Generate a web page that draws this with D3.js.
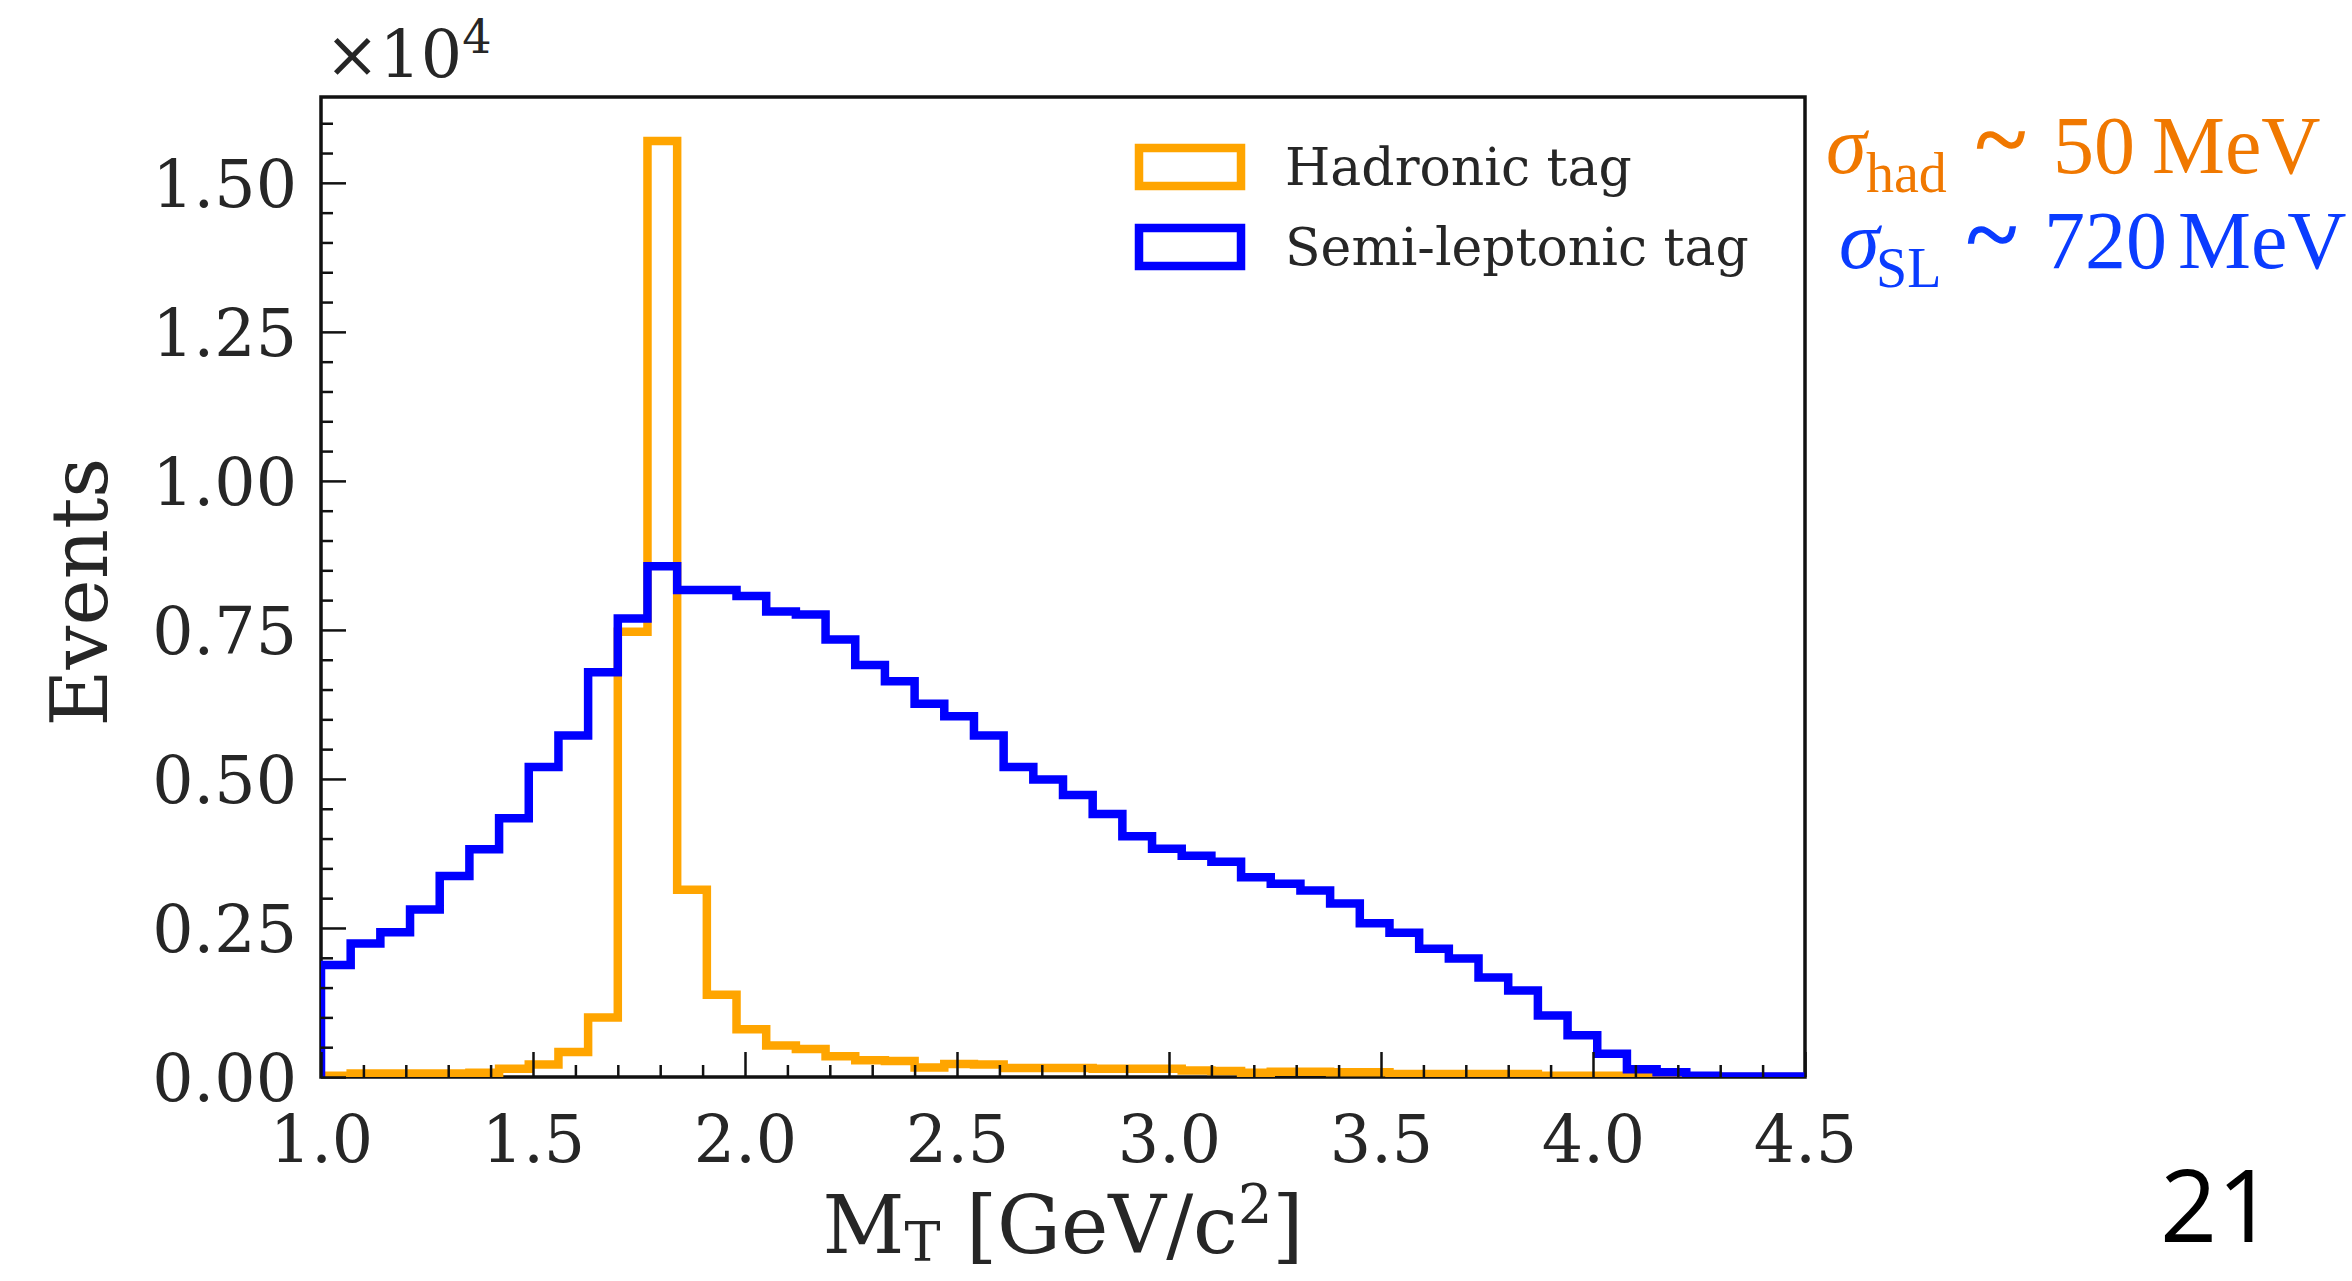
<!DOCTYPE html>
<html><head><meta charset="utf-8">
<script src="https://cdn.jsdelivr.net/npm/d3@7"></script>
<style>body{margin:0;background:#fff;} svg{display:block;}</style>
</head><body>
<svg id="c" width="2352" height="1281"></svg>
<script>
// ---------- data ----------
const binEdges = [1.00,1.07,1.14,1.21,1.28,1.35,1.42,1.49,1.56,1.63,1.70,1.77,1.84,1.91,1.98,2.05,2.12,2.19,2.26,2.33,2.40,2.47,2.54,2.61,2.68,2.75,2.82,2.89,2.96,3.03,3.10,3.17,3.24,3.31,3.38,3.45,3.52,3.59,3.66,3.73,3.80,3.87,3.94,4.01,4.08,4.15,4.22,4.29,4.36,4.43,4.50];
// Events in units of 10^4
const hadronic = [0.002,0.006,0.006,0.006,0.006,0.007,0.014,0.021,0.042,0.100,0.747,1.570,0.314,0.138,0.080,0.053,0.047,0.035,0.028,0.027,0.016,0.022,0.021,0.015,0.015,0.015,0.014,0.014,0.014,0.011,0.010,0.007,0.009,0.009,0.008,0.008,0.005,0.005,0.005,0.005,0.005,0.002,0.002,0.002,0.002,0,0,0,0,0];
const semiLeptonic = [0.188,0.224,0.243,0.281,0.337,0.382,0.434,0.520,0.573,0.679,0.769,0.857,0.817,0.817,0.807,0.781,0.776,0.734,0.691,0.664,0.626,0.605,0.573,0.520,0.499,0.473,0.441,0.404,0.383,0.371,0.361,0.335,0.324,0.313,0.291,0.258,0.242,0.215,0.199,0.167,0.145,0.103,0.070,0.039,0.013,0.008,0.002,0.001,0.001,0.001];
const xTicks = [1.0,1.5,2.0,2.5,3.0,3.5,4.0,4.5];
const yTicks = [0,0.25,0.50,0.75,1.00,1.25,1.50];
const seriesNames = ["Hadronic tag","Semi-leptonic tag"];
const seriesColors = ["#FFA500","#0000FF"];

// ---------- layout ----------
const svg = d3.select('#c');
const M = {left:321, right:1805, top:97, bottom:1077};
const x = d3.scaleLinear().domain([1.0,4.5]).range([M.left,M.right]);
const y = d3.scaleLinear().domain([0,1.644]).range([M.bottom,M.top]);
const textCol = '#262626';

svg.append('rect').attr('width',2352).attr('height',1281).attr('fill','#fff');
svg.append('defs').append('clipPath').attr('id','clip').append('rect')
  .attr('x',M.left).attr('y',M.top).attr('width',M.right-M.left).attr('height',M.bottom-M.top);

// spines
svg.append('rect').attr('x',M.left).attr('y',M.top).attr('width',M.right-M.left).attr('height',M.bottom-M.top)
  .attr('fill','none').attr('stroke','#111').attr('stroke-width',3.5);

// step histograms
function stepPoints(vals){
  const pts=[[binEdges[0],0]];
  vals.forEach((v,i)=>{pts.push([binEdges[i],v]);pts.push([binEdges[i+1],v]);});
  pts.push([binEdges[binEdges.length-1],0]);
  return pts;
}
const line = d3.line().x(d=>x(d[0])).y(d=>y(d[1]));
const gLines = svg.append('g').attr('clip-path','url(#clip)');
[hadronic, semiLeptonic].forEach((vals,i)=>{
  gLines.append('path').attr('d',line(stepPoints(vals)))
    .attr('fill','none').attr('stroke',seriesColors[i]).attr('stroke-width',8.5)
    .attr('stroke-linejoin','miter');
});

// axes
const xMinor = d3.range(1.0,4.5001,0.1).filter(v=>!xTicks.some(t=>Math.abs(t-v)<1e-6));
const yMinor = d3.range(0,1.6001,0.05).filter(v=>!yTicks.some(t=>Math.abs(t-v)<1e-6));

const gxm = svg.append('g').attr('transform',`translate(0,${M.bottom})`)
  .call(d3.axisBottom(x).tickValues(xMinor).tickFormat('').tickSizeInner(-12).tickSizeOuter(0));
const gx = svg.append('g').attr('transform',`translate(0,${M.bottom})`)
  .call(d3.axisBottom(x).tickValues(xTicks).tickFormat(d3.format('.1f')).tickSizeInner(-25).tickSizeOuter(0));
const gym = svg.append('g').attr('transform',`translate(${M.left},0)`)
  .call(d3.axisLeft(y).tickValues(yMinor).tickFormat('').tickSizeInner(-12).tickSizeOuter(0));
const gy = svg.append('g').attr('transform',`translate(${M.left},0)`)
  .call(d3.axisLeft(y).tickValues(yTicks).tickFormat(d3.format('.2f')).tickSizeInner(-25).tickSizeOuter(0));
[gxm,gx,gym,gy].forEach(g=>{
  g.select('.domain').remove();
  g.selectAll('line').attr('stroke','#111').attr('stroke-width',2.5);
});
gx.selectAll('text').attr('y',85).attr('dy',null)
  .attr('font-family','DejaVu Serif').attr('font-size',65).attr('fill',textCol);
gy.selectAll('text').attr('x',-24).attr('dy','0.36em')
  .attr('font-family','DejaVu Serif').attr('font-size',65).attr('fill',textCol);

// offset text x10^4
const off = svg.append('text').attr('x',325).attr('y',77)
  .attr('font-family','DejaVu Serif').attr('font-size',65).attr('fill',textCol).text('×10');
off.append('tspan').attr('font-size',46).attr('dy',-24).text('4');

// axis labels
svg.append('text').attr('transform','translate(107,592) rotate(-90)').attr('text-anchor','middle')
  .attr('font-family','DejaVu Serif').attr('font-size',78).attr('fill',textCol).text('Events');
const xl = svg.append('text').attr('x',1063).attr('y',1253).attr('text-anchor','middle')
  .attr('font-family','DejaVu Serif').attr('font-size',80).attr('fill',textCol);
xl.append('tspan').text('M');
xl.append('tspan').attr('font-size',54).attr('dy',8).text('T');
xl.append('tspan').attr('dy',-8).text(' [GeV/c');
xl.append('tspan').attr('font-size',54).attr('dy',-30).text('2');
xl.append('tspan').attr('dy',30).text(']');

// legend
const legY = [167,247];
seriesNames.forEach((name,i)=>{
  svg.append('rect').attr('x',1139).attr('y',legY[i]-19).attr('width',102).attr('height',38)
    .attr('fill','none').attr('stroke',seriesColors[i]).attr('stroke-width',8.5);
  svg.append('text').attr('x',1285).attr('y',legY[i]+18)
    .attr('font-family','DejaVu Serif').attr('font-size',52).attr('fill',textCol).text(name);
});

// resolution annotations
function annot(color, base, subText, subX, tildeX, numX, num, mevX){
  const f = 'Liberation Serif';
  svg.append('text').attr('x',base[0]).attr('y',base[1]).attr('font-family',f).attr('font-style','italic')
    .attr('font-size',82).attr('fill',color).text('σ');
  svg.append('text').attr('x',subX).attr('y',base[1]+19).attr('font-family',f)
    .attr('font-size',56).attr('fill',color).text(subText);
  svg.append('text').attr('x',tildeX).attr('y',base[1]-2).attr('font-family',f)
    .attr('font-size',96).attr('fill',color).attr('stroke',color).attr('stroke-width',1.5).text('~');
  svg.append('text').attr('x',numX).attr('y',base[1]).attr('font-family',f)
    .attr('font-size',82).attr('fill',color).text(num);
  svg.append('text').attr('x',mevX).attr('y',base[1]).attr('font-family',f)
    .attr('font-size',82).attr('fill',color).text('MeV');
}
annot('#F07800',[1826,173],'had',1866,1975,2053,'50',2152);
annot('#0A3CFF',[1839,268],'SL',1876,1966,2044,'720',2178);

// page number
svg.append('text').attr('x',2160).attr('y',1242).attr('font-family','Open Sans')
  .attr('font-size',100).attr('fill','#000').text('21');
</script>
</body></html>
